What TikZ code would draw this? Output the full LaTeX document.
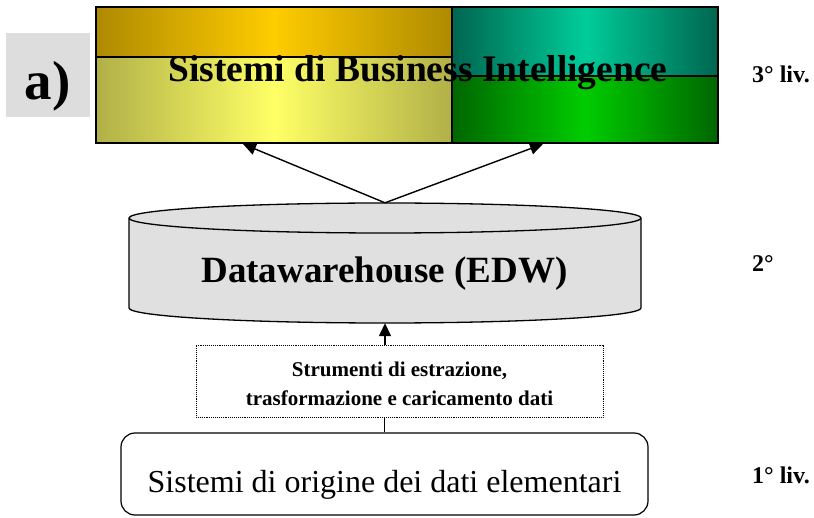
\documentclass[tikz,border=0pt]{standalone}
\usepackage{fontspec}
\setmainfont{Liberation Serif}
\usetikzlibrary{arrows.meta}
\definecolor{goldE}{HTML}{AE8A00}
\definecolor{goldC}{HTML}{FFCC00}
\definecolor{yelE}{HTML}{B0B048}
\definecolor{yelC}{HTML}{FFFF66}
\definecolor{tealE}{HTML}{006650}
\definecolor{tealC}{HTML}{00CC99}
\definecolor{grnE}{HTML}{006600}
\definecolor{grnC}{HTML}{00CC00}
\definecolor{lblgray}{HTML}{DDDDDD}
\definecolor{dwgray}{HTML}{E0E0E0}
\begin{document}
\begin{tikzpicture}[x=1pt,y=-1pt,
  lvl/.style={font=\fontsize{24}{27}\selectfont\bfseries, anchor=base west, inner sep=0pt},
  arr/.style={line width=1.4pt, -{Triangle[length=13pt,width=12pt]}},
  txt/.style={inner sep=0pt, anchor=base},
  frame/.style={line width=2pt, draw=black}]
\useasboundingbox (0,0) rectangle (814,518);

% label a)
\node[fill=lblgray, minimum width=84pt, minimum height=84pt, inner sep=0pt] (lab) at (48,75) {};
\node[txt, font=\fontsize{55}{60}\selectfont\bfseries] (labt) at (47.5,100) {a)};

% BI box
\shade[left color=goldE, right color=goldE, middle color=goldC] (96,7) rectangle (452,57);
\shade[left color=yelE, right color=yelE, middle color=yelC] (96,57) rectangle (452,143);
\shade[left color=tealE, right color=tealE, middle color=tealC] (452,7) rectangle (718,76);
\shade[left color=grnE, right color=grnE, middle color=grnC] (452,76) rectangle (718,143);
\node[txt, font=\fontsize{37.5}{40}\selectfont\bfseries] (bit) at (418,82) {Sistemi di Business Intelligence};
\draw[frame] (96,57) -- (452,57);
\draw[frame] (452,76) -- (718,76);
\draw[frame] (452,7) -- (452,143);
\node[frame, minimum width=622pt, minimum height=136pt, inner sep=0pt] (bi) at (407,75) {};
\coordinate (biL) at (243,144);
\coordinate (biR) at (543,144);

% Datawarehouse cylinder
\filldraw[fill=dwgray, line width=1.3pt] (129,218) -- (129,308)
  arc[start angle=180, end angle=0, x radius=256, y radius=15] -- (641,218)
  arc[start angle=0, end angle=-180, x radius=256, y radius=15] -- cycle;
\draw[line width=1.3pt] (129,218) arc[start angle=180, end angle=0, x radius=256, y radius=15];
\node[inner sep=0pt, minimum width=512pt, minimum height=120pt] (dw) at (385,263) {};
\node[txt, font=\fontsize{37}{40}\selectfont\bfseries] (dwt) at (384.5,283) {Datawarehouse (EDW)};

% ETL box
\node[draw, densely dotted, line width=0.9pt, minimum width=407pt, minimum height=72pt, inner sep=0pt] (etl) at (399.5,381) {};
\node[txt, font=\fontsize{21}{24}\selectfont\bfseries] (etl1) at (399.5,377) {Strumenti di estrazione,};
\node[txt, font=\fontsize{21}{24}\selectfont\bfseries] (etl2) at (399.5,406) {trasformazione e caricamento dati};

% source box
\node[draw, line width=1.2pt, rounded corners=14pt, minimum width=527pt, minimum height=82pt, inner sep=0pt] (src) at (384.5,474) {};
\node[txt, font=\fontsize{32}{36}\selectfont] (srct) at (384.5,492) {Sistemi di origine dei dati elementari};

% connectors
\draw[arr] (dw.north) -- (biL);
\draw[arr] (dw.north) -- (biR);
\draw[arr] (etl.north -| dw.south) -- (dw.south);
\draw[line width=1pt] (etl.south -| src.north) -- (src.north);

% level labels
\node[lvl] (l3) at (752,83) {3° liv.};
\node[lvl] (l2) at (752,272) {2°};
\node[lvl] (l1) at (752,483) {1° liv.};
\end{tikzpicture}
\end{document}
